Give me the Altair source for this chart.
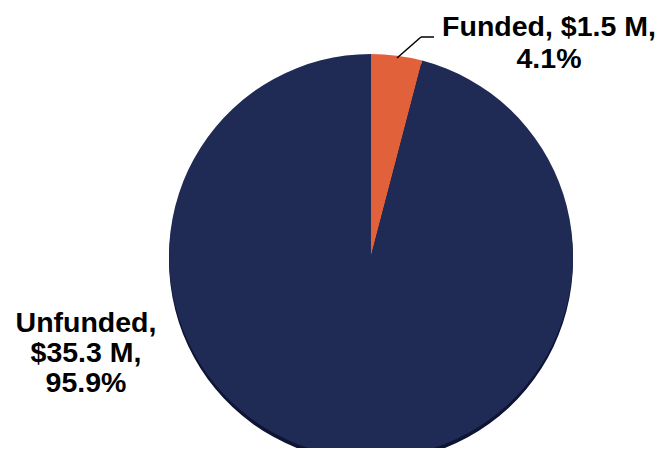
import altair as alt
import pandas as pd

categories = ["Funded", "Unfunded"]
amounts = [1.5, 35.3]
percents = ["4.1%", "95.9%"]
colors = ["#e0613a", "#1f2a55"]

df = pd.DataFrame({"category": categories, "amount": amounts, "order": [0, 1]})

OX, OY = 8, 8
cx, cy, R = 371 - OX, 256 - OY, 202

shadow = alt.Chart(df).mark_arc(color="#0e1433", stroke=None).encode(
    theta=alt.Theta("amount:Q", stack=True),
    order=alt.Order("order:Q"),
    x=alt.value(cx), y=alt.value(cy + 4), radius=alt.value(R),
)

pie = alt.Chart(df).mark_arc(stroke=None).encode(
    theta=alt.Theta("amount:Q", stack=True),
    order=alt.Order("order:Q"),
    color=alt.Color("category:N", scale=alt.Scale(domain=categories, range=colors), legend=None),
    x=alt.value(cx), y=alt.value(cy), radius=alt.value(R),
)

lab1 = pd.DataFrame({
    "text": [[f"{categories[0]}, ${amounts[0]} M,", percents[0]]],
    "px": [549 - OX], "py": [36 - OY],
})
lab2 = pd.DataFrame({
    "text": [[f"{categories[1]},", f"${amounts[1]} M,", percents[1]]],
    "px": [86 - OX], "py": [332 - OY],
})

def label_layer(d, lh):
    return alt.Chart(d).mark_text(
        font="Liberation Sans", fontWeight="bold", fontSize=28.5, color="black",
        align="center", baseline="alphabetic", lineHeight=lh,
    ).encode(x=alt.X("px:Q", scale=None), y=alt.Y("py:Q", scale=None), text="text")

lead1 = alt.Chart(df.head(1)).mark_rule(color="black", strokeWidth=1.5).encode(
    x=alt.value(397 - OX), y=alt.value(58 - OY), x2=alt.value(421 - OX), y2=alt.value(37 - OY)
)
lead2 = alt.Chart(df.head(1)).mark_rule(color="black", strokeWidth=1.5).encode(
    x=alt.value(421 - OX), y=alt.value(37 - OY), x2=alt.value(434 - OX), y2=alt.value(37 - OY)
)

chart = alt.layer(shadow, pie, lead1, lead2, label_layer(lab1, 32), label_layer(lab2, 30)).properties(
    width=650, height=440, padding=0, autosize=alt.AutoSizeParams(type="none")
).configure_view(stroke=None)

chart.save("out.html", embed_options={"renderer": "svg", "actions": False})
